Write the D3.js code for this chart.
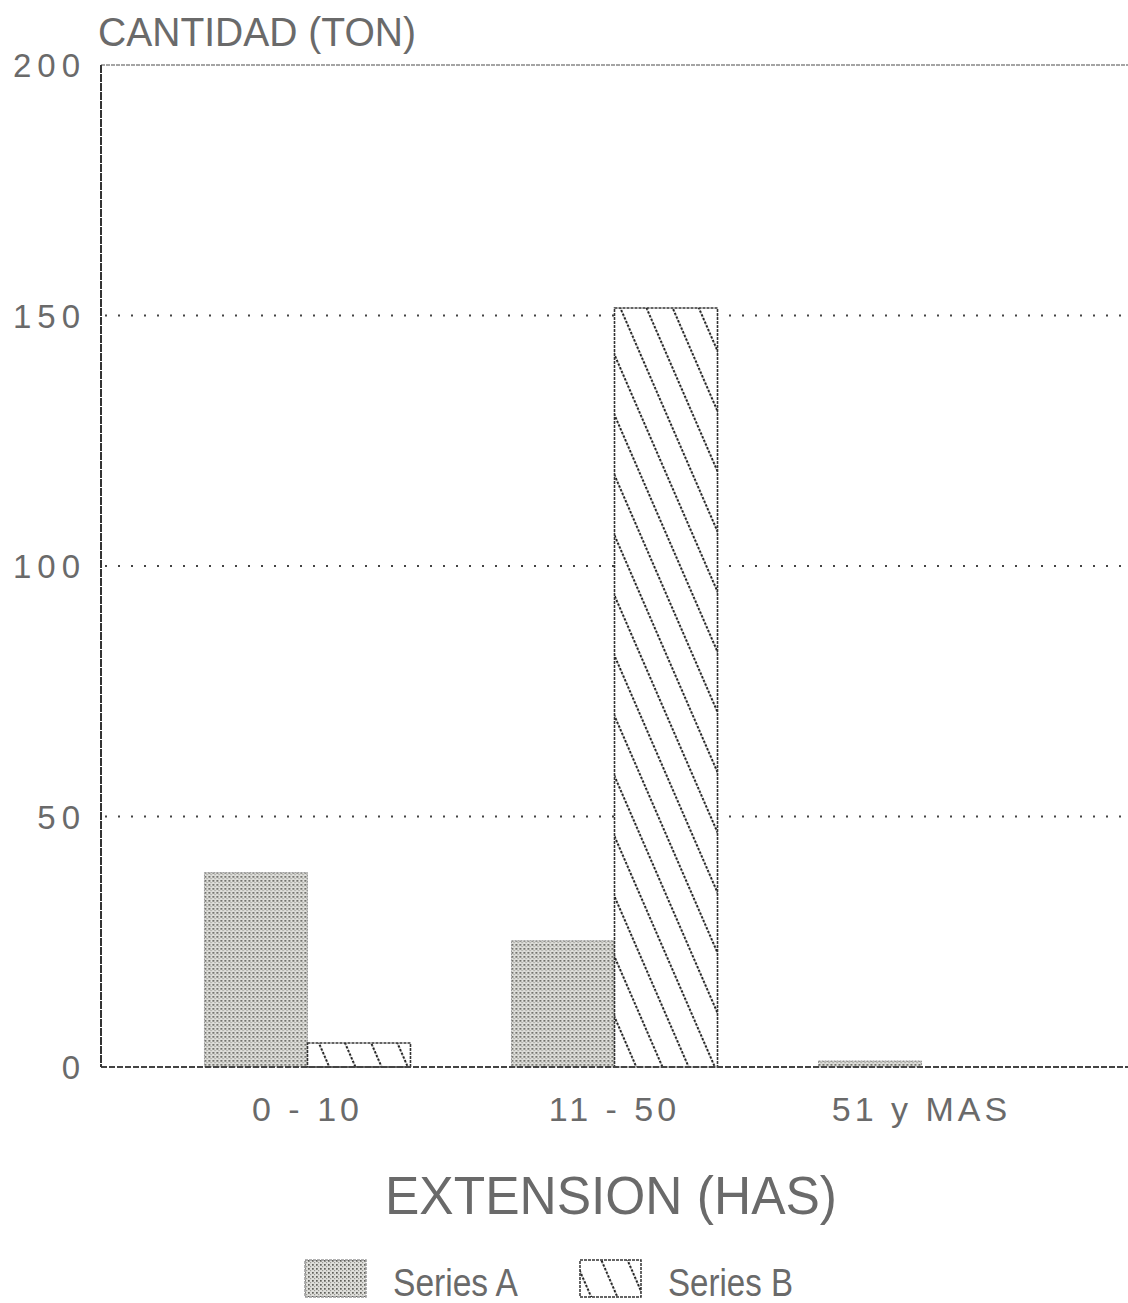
<!DOCTYPE html>
<html><head><meta charset="utf-8">
<script src="https://cdn.jsdelivr.net/npm/d3@7"></script>
<style>html,body{margin:0;padding:0;background:#fff;}svg{display:block;}</style>
</head><body>
<svg id="chart" width="1128" height="1303"></svg>
<script>
const categories = ["0 - 10", "11 - 50", "51 y MAS"];
const seriesNames = ["Series A", "Series B"];
const seriesA = [38.8, 25.2, 1.2];
const seriesB = [4.8, 151.5, 0];
const yTicks = [0, 50, 100, 150, 200];
const yTitle = "CANTIDAD (TON)";
const xTitle = "EXTENSION (HAS)";

const svg = d3.select("#chart");
const pLeft = 101, pRight = 1128, pTop = 65, pBottom = 1067;
const font = "'Liberation Sans', Arial, sans-serif";
const txt = "#6a6a6a";

const defs = svg.append("defs");
// Series A halftone pattern
const pa = defs.append("pattern").attr("id","patA").attr("patternUnits","userSpaceOnUse")
  .attr("width",4).attr("height",4);
pa.append("rect").attr("width",4).attr("height",4).attr("fill","#dededa");
pa.append("rect").attr("x",0).attr("y",0).attr("width",1.7).attr("height",1.7).attr("fill","#5f5f5a");
pa.append("rect").attr("x",2).attr("y",2).attr("width",1.2).attr("height",1.2).attr("fill","#9a9a95");
// Series B hatch pattern
const pb = defs.append("pattern").attr("id","patB").attr("patternUnits","userSpaceOnUse")
  .attr("width",24).attr("height",24).attr("patternTransform","rotate(-23.5)");
pb.append("rect").attr("width",24).attr("height",24).attr("fill","#fff");
pb.append("line").attr("x1",1).attr("x2",1).attr("y1",0).attr("y2",24)
  .attr("stroke","#222").attr("stroke-width",2).attr("stroke-dasharray","2.5,1.5");

const y = d3.scaleLinear().domain([0,200]).range([pBottom, pTop]);
const x0 = d3.scaleBand().domain(categories).range([pLeft, pRight]).paddingInner(0.329).paddingOuter(0.337);
const x1 = d3.scaleBand().domain(seriesNames).range([0, x0.bandwidth()]);

// gridlines
svg.append("g").selectAll("line").data(yTicks.filter(t => t > 0 && t < 200)).join("line")
  .attr("x1", pLeft + 4).attr("x2", pRight).attr("y1", d => y(d)).attr("y2", d => y(d))
  .attr("stroke","#444").attr("stroke-width",2).attr("stroke-dasharray","2,11");
// top border
svg.append("line").attr("x1",pLeft).attr("x2",pRight).attr("y1",y(200)).attr("y2",y(200))
  .attr("stroke","#888").attr("stroke-width",1.5).attr("stroke-dasharray","4,1");

// bars
const groups = svg.append("g").selectAll("g").data(categories).join("g")
  .attr("transform", d => `translate(${x0(d)},0)`);
groups.append("rect")
  .attr("x", x1("Series A")).attr("width", x1.bandwidth())
  .attr("y", (d,i) => y(seriesA[i])).attr("height", (d,i) => y(0) - y(seriesA[i]))
  .attr("fill","url(#patA)").attr("stroke","#999").attr("stroke-width",1).attr("stroke-dasharray","2,1");
groups.append("rect")
  .attr("x", x1("Series B")).attr("width", x1.bandwidth())
  .attr("y", (d,i) => y(seriesB[i])).attr("height", (d,i) => y(0) - y(seriesB[i]))
  .attr("fill","url(#patB)").attr("stroke","#333").attr("stroke-width",(d,i)=>seriesB[i]>0?1.6:0)
  .attr("stroke-dasharray","3,1");

// baseline
svg.append("line").attr("x1",pLeft).attr("x2",pRight).attr("y1",y(0)).attr("y2",y(0))
  .attr("stroke","#444").attr("stroke-width",1.8).attr("stroke-dasharray","6,2");
// left axis
svg.append("line").attr("x1",pLeft).attr("x2",pLeft).attr("y1",y(200)).attr("y2",y(0))
  .attr("stroke","#333").attr("stroke-width",2).attr("stroke-dasharray","8,1");

// y tick labels
const yAxis = d3.axisLeft(y).tickValues(yTicks).tickSize(0).tickPadding(15);
const ya = svg.append("g").attr("transform",`translate(${pLeft},0)`).call(yAxis);
ya.select(".domain").remove();
ya.selectAll("text").attr("font-family",font).attr("font-size",33).attr("fill",txt)
  .attr("letter-spacing","6px").attr("dy","0.36em");

// x labels
const xAxis = d3.axisBottom(x0).tickSize(0).tickPadding(30);
const xa = svg.append("g").attr("transform",`translate(0,${pBottom})`).call(xAxis);
xa.select(".domain").remove();
xa.selectAll("text").attr("font-family",font).attr("font-size",34).attr("fill",txt)
  .attr("letter-spacing","4px").attr("dy","0.71em");

// titles
svg.append("text").attr("x",98).attr("y",46).attr("font-family",font).attr("font-size",40)
  .attr("fill",txt).attr("textLength",318).attr("lengthAdjust","spacingAndGlyphs").text(yTitle);
svg.append("text").attr("x",385).attr("y",1214).attr("font-family",font).attr("font-size",54)
  .attr("fill",txt).attr("textLength",452).attr("lengthAdjust","spacingAndGlyphs").text(xTitle);

// legend
const legendItems = [
  {name: seriesNames[0], fill: "url(#patA)", sx: 305, tx: 393, stroke: "#999"},
  {name: seriesNames[1], fill: "url(#patB)", sx: 580, tx: 668, stroke: "#333"}
];
const lg = svg.append("g").selectAll("g").data(legendItems).join("g");
lg.append("rect").attr("x", d => d.sx).attr("y",1260).attr("width",61).attr("height",37)
  .attr("fill", d => d.fill).attr("stroke", d => d.stroke).attr("stroke-width",1.5).attr("stroke-dasharray","3,1");
lg.append("text").attr("x", d => d.tx).attr("y",1296).attr("font-family",font).attr("font-size",38)
  .attr("fill",txt).attr("textLength",125).attr("lengthAdjust","spacingAndGlyphs").text(d => d.name);
</script>
</body></html>
